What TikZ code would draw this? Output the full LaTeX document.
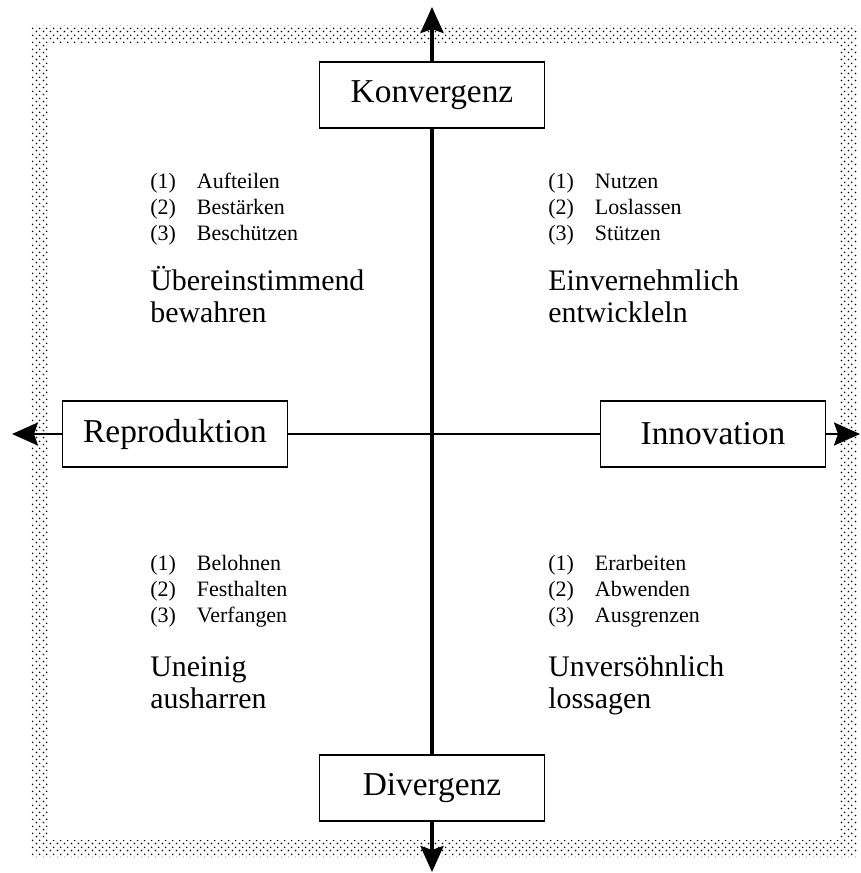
\documentclass[tikz,border=0pt]{standalone}
\usepackage{fontspec}
\setmainfont{Liberation Serif}
\usetikzlibrary{arrows.meta,positioning,patterns}
\pgfdeclarepatternformonly{stipple}{\pgfpointorigin}{\pgfqpoint{4pt}{4pt}}{\pgfqpoint{4pt}{4pt}}{
  \pgfpathcircle{\pgfqpoint{1pt}{1pt}}{0.55pt}
  \pgfpathcircle{\pgfqpoint{3pt}{3pt}}{0.55pt}
  \pgfusepath{fill}
}
\tikzset{
  pole/.style={rectangle, draw, fill=white, line width=1pt, minimum width=4.5cm, minimum height=1.32cm, inner sep=0pt, font=\fontsize{19}{22}\selectfont},
  vaxis/.style={line width=2pt},
  haxis/.style={line width=1.3pt},
  tip/.style={-{Stealth[length=0.52cm,width=0.46cm,inset=0.08cm]}},
  steps/.style={anchor=base west, inner sep=0pt, font=\fontsize{12.5}{14.9}\selectfont},
  quadlabel/.style={anchor=base west, inner sep=0pt, font=\fontsize{17}{18.6}\selectfont}
}
\newcommand{\steplist}[3]{\begin{tabular}[t]{@{}l@{\hspace{0.42cm}}l@{}}(1) & #1\\(2) & #2\\(3) & #3\end{tabular}}
\newcommand{\twolines}[2]{\begin{tabular}[t]{@{}l@{}}#1\\#2\end{tabular}}

\begin{document}
\begin{tikzpicture}[x=0.02cm, y=-0.02cm]
  \useasboundingbox (0,0) rectangle (861,873);
  % stippled frame
  \fill[pattern=stipple, even odd rule] (31,25) rectangle (857,857) (48,43) rectangle (839,840);

  % the four poles
  \node[pole] (konv) at (432,95) {Konvergenz};
  \node[pole] (div) at (432,788) {Divergenz};
  \node[pole] (repro) at (175,434) {Reproduktion};
  \node[pole] (innov) at (713,434) {Innovation};

  \coordinate (ntip) at (432,7);
  \coordinate (stip) at (432,872);
  \coordinate (wtip) at (12,434);
  \coordinate (etip) at (860,434);

  % axes
  \draw[vaxis,tip] (konv) -- (ntip);
  \draw[vaxis] (konv) -- (div);
  \draw[vaxis,tip] (div) -- (stip);
  \draw[haxis,tip] (repro) -- (wtip);
  \draw[haxis] (repro) -- (innov);
  \draw[haxis,tip] (innov) -- (etip);

  % quadrants
  \node[steps] (nwlist) at (150,188) {\steplist{Aufteilen}{Bestärken}{Beschützen}};
  \node[quadlabel] (nwlabel) at (150,290) {\twolines{Übereinstimmend}{bewahren}};
  \node[steps] (nelist) at (548,188) {\steplist{Nutzen}{Loslassen}{Stützen}};
  \node[quadlabel] (nelabel) at (548,290) {\twolines{Einvernehmlich}{entwickleln}};
  \node[steps] (swlist) at (150,570) {\steplist{Belohnen}{Festhalten}{Verfangen}};
  \node[quadlabel] (swlabel) at (150,676) {\twolines{Uneinig}{ausharren}};
  \node[steps] (selist) at (548,570) {\steplist{Erarbeiten}{Abwenden}{Ausgrenzen}};
  \node[quadlabel] (selabel) at (548,676) {\twolines{Unversöhnlich}{lossagen}};
\end{tikzpicture}
\end{document}
